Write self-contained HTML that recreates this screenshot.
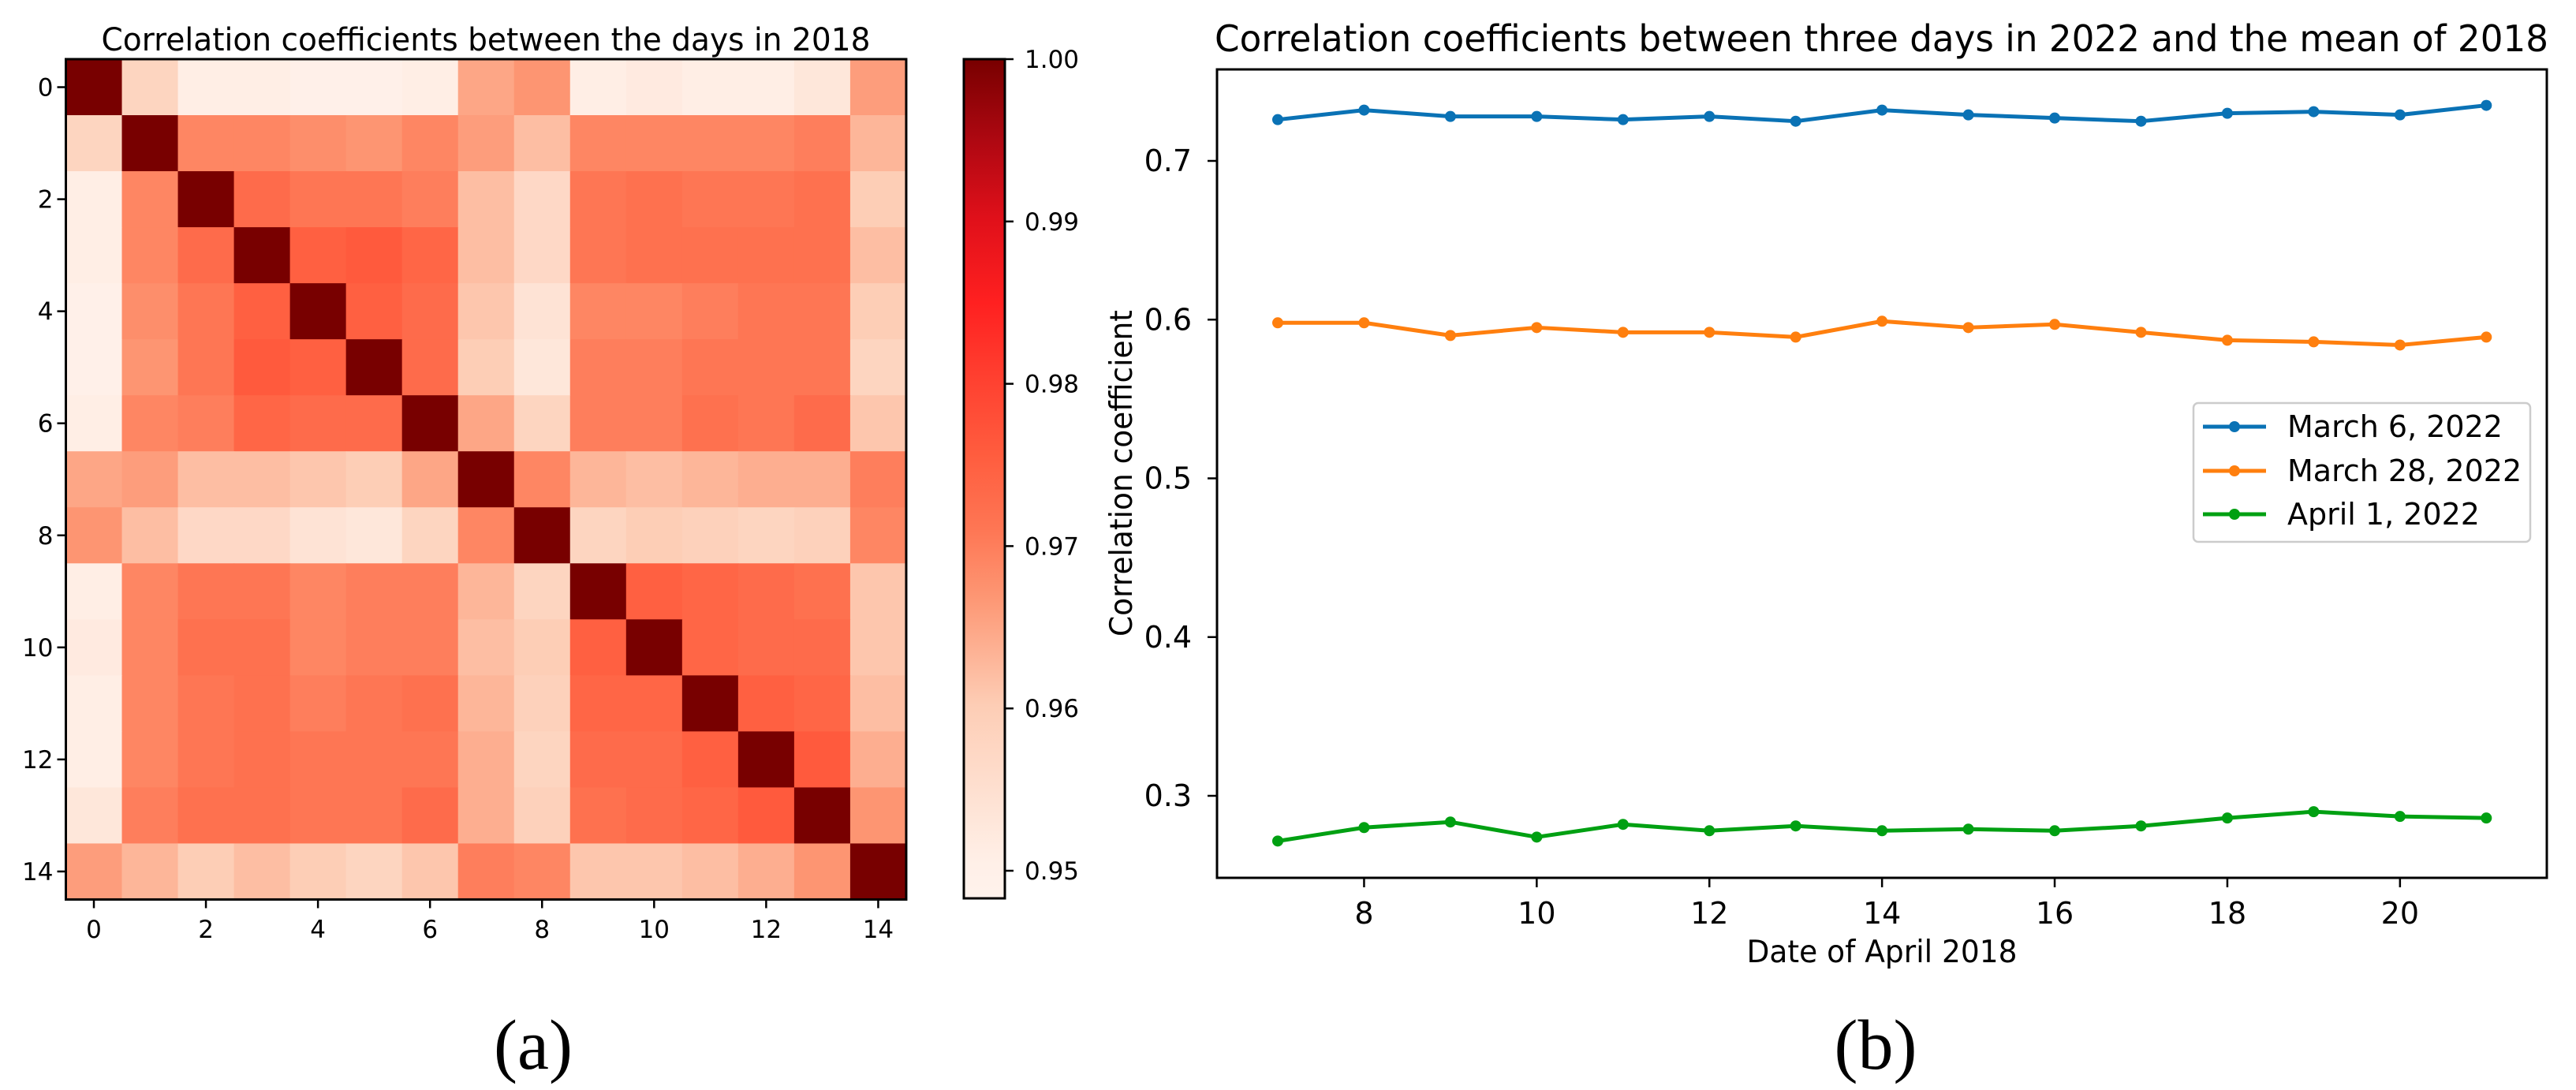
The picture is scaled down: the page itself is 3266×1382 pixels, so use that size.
<!DOCTYPE html>
<html><head><meta charset="utf-8"><style>
html,body{margin:0;padding:0;background:#fff}
svg{display:block;font-family:"DejaVu Sans","Liberation Sans",sans-serif}
</style></head><body>
<svg id="fig" width="3266" height="1382" viewBox="0 0 3266 1382" xmlns="http://www.w3.org/2000/svg">
<g id="pa"></g>
<g id="pb"></g>
</svg>
<script>
const heatLabels=[0,1,2,3,4,5,6,7,8,9,10,11,12,13,14];
const heatTicks=[0,2,4,6,8,10,12,14];
const cbTicks=[0.95,0.96,0.97,0.98,0.99,1.00];
const row0=[1,.958,.951,.951,.950,.950,.951,.965,.967,.951,.952,.951,.951,.953,.966];
const row1=[.958,1,.969,.969,.968,.967,.969,.966,.962,.969,.969,.969,.969,.970,.963];
const row2=[.951,.969,1,.973,.971,.971,.970,.962,.957,.971,.972,.971,.971,.972,.960];
const row3=[.951,.969,.973,1,.975,.976,.974,.962,.957,.971,.972,.972,.972,.972,.962];
const row4=[.950,.968,.971,.975,1,.975,.973,.961,.954,.969,.969,.970,.971,.971,.960];
const row5=[.950,.967,.971,.976,.975,1,.973,.960,.953,.970,.970,.971,.971,.971,.958];
const row6=[.951,.969,.970,.974,.973,.973,1,.965,.958,.970,.970,.972,.971,.973,.961];
const row7=[.965,.966,.962,.962,.961,.960,.965,1,.969,.963,.962,.963,.964,.964,.970];
const row8=[.967,.962,.957,.957,.954,.953,.958,.969,1,.958,.960,.959,.958,.959,.969];
const row9=[.951,.969,.971,.971,.969,.970,.970,.963,.958,1,.975,.974,.973,.972,.961];
const row10=[.952,.969,.972,.972,.969,.970,.970,.962,.960,.975,1,.974,.973,.973,.961];
const row11=[.951,.969,.971,.972,.970,.971,.972,.963,.959,.974,.974,1,.975,.974,.962];
const row12=[.951,.969,.971,.972,.971,.971,.971,.964,.958,.973,.973,.975,1,.976,.964];
const row13=[.953,.970,.972,.972,.971,.971,.973,.964,.959,.972,.973,.974,.976,1,.967];
const row14=[.966,.963,.960,.962,.960,.958,.961,.970,.969,.961,.961,.962,.964,.967,1];
const matrix=[row0,row1,row2,row3,row4,row5,row6,row7,row8,row9,row10,row11,row12,row13,row14];

const days=[7,8,9,10,11,12,13,14,15,16,17,18,19,20,21];
const march6=[0.726,0.732,0.728,0.728,0.726,0.728,0.725,0.732,0.729,0.727,0.725,0.730,0.731,0.729,0.735];
const march28=[0.598,0.598,0.590,0.595,0.592,0.592,0.589,0.599,0.595,0.597,0.592,0.587,0.586,0.584,0.589];
const april1=[0.2715,0.280,0.2835,0.274,0.282,0.278,0.281,0.278,0.279,0.278,0.281,0.286,0.290,0.287,0.286];
const seriesNames=["March 6, 2022","March 28, 2022","April 1, 2022"];
const xTicksB=[8,10,12,14,16,18,20];
const yTicksB=[0.3,0.4,0.5,0.6,0.7];

const NS="http://www.w3.org/2000/svg";
function mk(tag,attrs,parent,text){const e=document.createElementNS(NS,tag);for(const k in attrs)e.setAttribute(k,attrs[k]);if(text!==undefined)e.textContent=text;parent.appendChild(e);return e;}

const stops=[[0,[255,242,236]],[0.04,[255,240,232]],[0.23,[253,205,181]],[0.36,[253,150,115]],[0.44,[254,118,84]],[0.53,[255,92,62]],[0.62,[255,64,48]],[0.71,[255,32,32]],[0.81,[224,16,26]],[0.9,[176,8,18]],[1,[120,0,0]]];
const vmin=0.9483,vmax=1.0;
function cmap(v){let f=(v-vmin)/(vmax-vmin);f=Math.max(0,Math.min(1,f));for(let i=1;i<stops.length;i++){if(f<=stops[i][0]){const a=stops[i-1],b=stops[i];const t=(f-a[0])/(b[0]-a[0]);const c=a[1].map((x,j)=>Math.round(x+(b[1][j]-x)*t));return `rgb(${c[0]},${c[1]},${c[2]})`;}}return "rgb(120,0,0)";}

// Panel A
const pa=document.getElementById('pa');
const hx0=83.5,hy0=75,cell=71.03;
const hx=i=>hx0+cell*i, hy=i=>hy0+cell*i;
let t=mk('text',{x:616,y:64,'font-size':40,'text-anchor':'middle',textLength:975,lengthAdjust:'spacingAndGlyphs'},pa,"Correlation coefficients between the days in 2018");


matrix.forEach((row,r)=>row.forEach((v,c)=>{
  const e=mk('rect',{x:hx(c),y:hy(r),width:cell+0.6,height:cell+0.6,fill:cmap(v)},pa);
  
  
}));
let fr=mk('rect',{x:hx0,y:hy0,width:cell*15,height:cell*15,fill:'none',stroke:'#000','stroke-width':3},pa);


heatTicks.forEach(k=>{
  const cx=hx(k)+cell/2, cy=hy(k)+cell/2, bot=hy0+cell*15;
  mk('line',{x1:cx,x2:cx,y1:bot,y2:bot+11,stroke:'#000','stroke-width':2.5},pa);
  let a=mk('text',{x:cx,y:1189,'font-size':31,'text-anchor':'middle'},pa,String(heatLabels[k]));
  
  
  mk('line',{x1:hx0-11,x2:hx0,y1:cy,y2:cy,stroke:'#000','stroke-width':2.5},pa);
  let b=mk('text',{x:hx0-16,y:cy+11,'font-size':31,'text-anchor':'end'},pa,String(heatLabels[k]));
  
  
});
const cbx=1222,cbw=52,cbTop=75,cbBot=1139;
const cby=v=>cbBot-(v-vmin)/(vmax-vmin)*(cbBot-cbTop);
const defs=mk('defs',{},pa);
const grad=mk('linearGradient',{id:'cbg',x1:0,y1:1,x2:0,y2:0},defs);
stops.forEach(s=>mk('stop',{offset:s[0],'stop-color':`rgb(${s[1].join(',')})`},grad));
let cb=mk('rect',{x:cbx,y:cbTop,width:cbw,height:cbBot-cbTop,fill:'url(#cbg)',stroke:'#000','stroke-width':3},pa);


cbTicks.forEach(v=>{
  const y=cby(v);
  mk('line',{x1:cbx+cbw,x2:cbx+cbw+11,y1:y,y2:y,stroke:'#000','stroke-width':2.5},pa);
  let e=mk('text',{x:1299,y:y+11,'font-size':31},pa,v.toFixed(2));
  
  
});
let la=mk('text',{x:676,y:1355,'font-size':90,'text-anchor':'middle','font-family':'Liberation Serif, serif'},pa,"(a)");



// Panel B
const pb=document.getElementById('pb');
const L=1543,R=3229,T=88,B=1113;
const xs=d=>1620+(d-7)*109.45;
const ys=v=>204-(v-0.7)*2012.5;
let tb=mk('text',{x:1540,y:65,'font-size':46,textLength:1691,lengthAdjust:'spacingAndGlyphs'},pb,"Correlation coefficients between three days in 2022 and the mean of 2018");


let fb=mk('rect',{x:L,y:T,width:R-L,height:B-T,fill:'none',stroke:'#000','stroke-width':3},pb);


xTicksB.forEach(d=>{
  const x=xs(d);
  mk('line',{x1:x,x2:x,y1:B,y2:B+12,stroke:'#000','stroke-width':2.5},pb);
  let e=mk('text',{x:x,y:1171,'font-size':38,'text-anchor':'middle'},pb,String(d));
  
  
});
yTicksB.forEach(v=>{
  const y=ys(v);
  mk('line',{x1:L-12,x2:L,y1:y,y2:y,stroke:'#000','stroke-width':2.5},pb);
  let e=mk('text',{x:1511,y:y+13,'font-size':38,'text-anchor':'end'},pb,v.toFixed(1));
  
  
});
let xl=mk('text',{x:2386,y:1220,'font-size':39,'text-anchor':'middle',textLength:343,lengthAdjust:'spacingAndGlyphs'},pb,"Date of April 2018");


let yl=mk('text',{x:0,y:0,'font-size':39,'text-anchor':'middle',textLength:414,lengthAdjust:'spacingAndGlyphs',transform:'translate(1435,600) rotate(-90)'},pb,"Correlation coefficient");


const colors=['#0a72b5','#ff7f0e','#00a012'];
[march6,march28,april1].forEach((vals,si)=>{
  const g=mk('g',{},pb);
  
  
  mk('polyline',{points:vals.map((v,i)=>xs(days[i])+','+ys(v)).join(' '),fill:'none',stroke:colors[si],'stroke-width':5,'stroke-linejoin':'round'},g);
  vals.forEach((v,i)=>{
    const c=mk('circle',{cx:xs(days[i]),cy:ys(v),r:7,fill:colors[si]},g);
    
    
  });
});
const lg=mk('g',{},pb);


mk('rect',{x:2781,y:511,width:427,height:176,rx:6,fill:'#fff',stroke:'#cccccc','stroke-width':2.5},lg);
const ly=[541,597,652];
seriesNames.forEach((n,i)=>{
  const e=mk('g',{},lg);
  
  
  mk('line',{x1:2793,x2:2873,y1:ly[i],y2:ly[i],stroke:colors[i],'stroke-width':5},e);
  mk('circle',{cx:2833,cy:ly[i],r:7,fill:colors[i]},e);
  mk('text',{x:2900,y:ly[i]+13,'font-size':38},e,n);
});
let lb=mk('text',{x:2378,y:1355,'font-size':90,'text-anchor':'middle','font-family':'Liberation Serif, serif'},pb,"(b)");


</script>
</body></html>
